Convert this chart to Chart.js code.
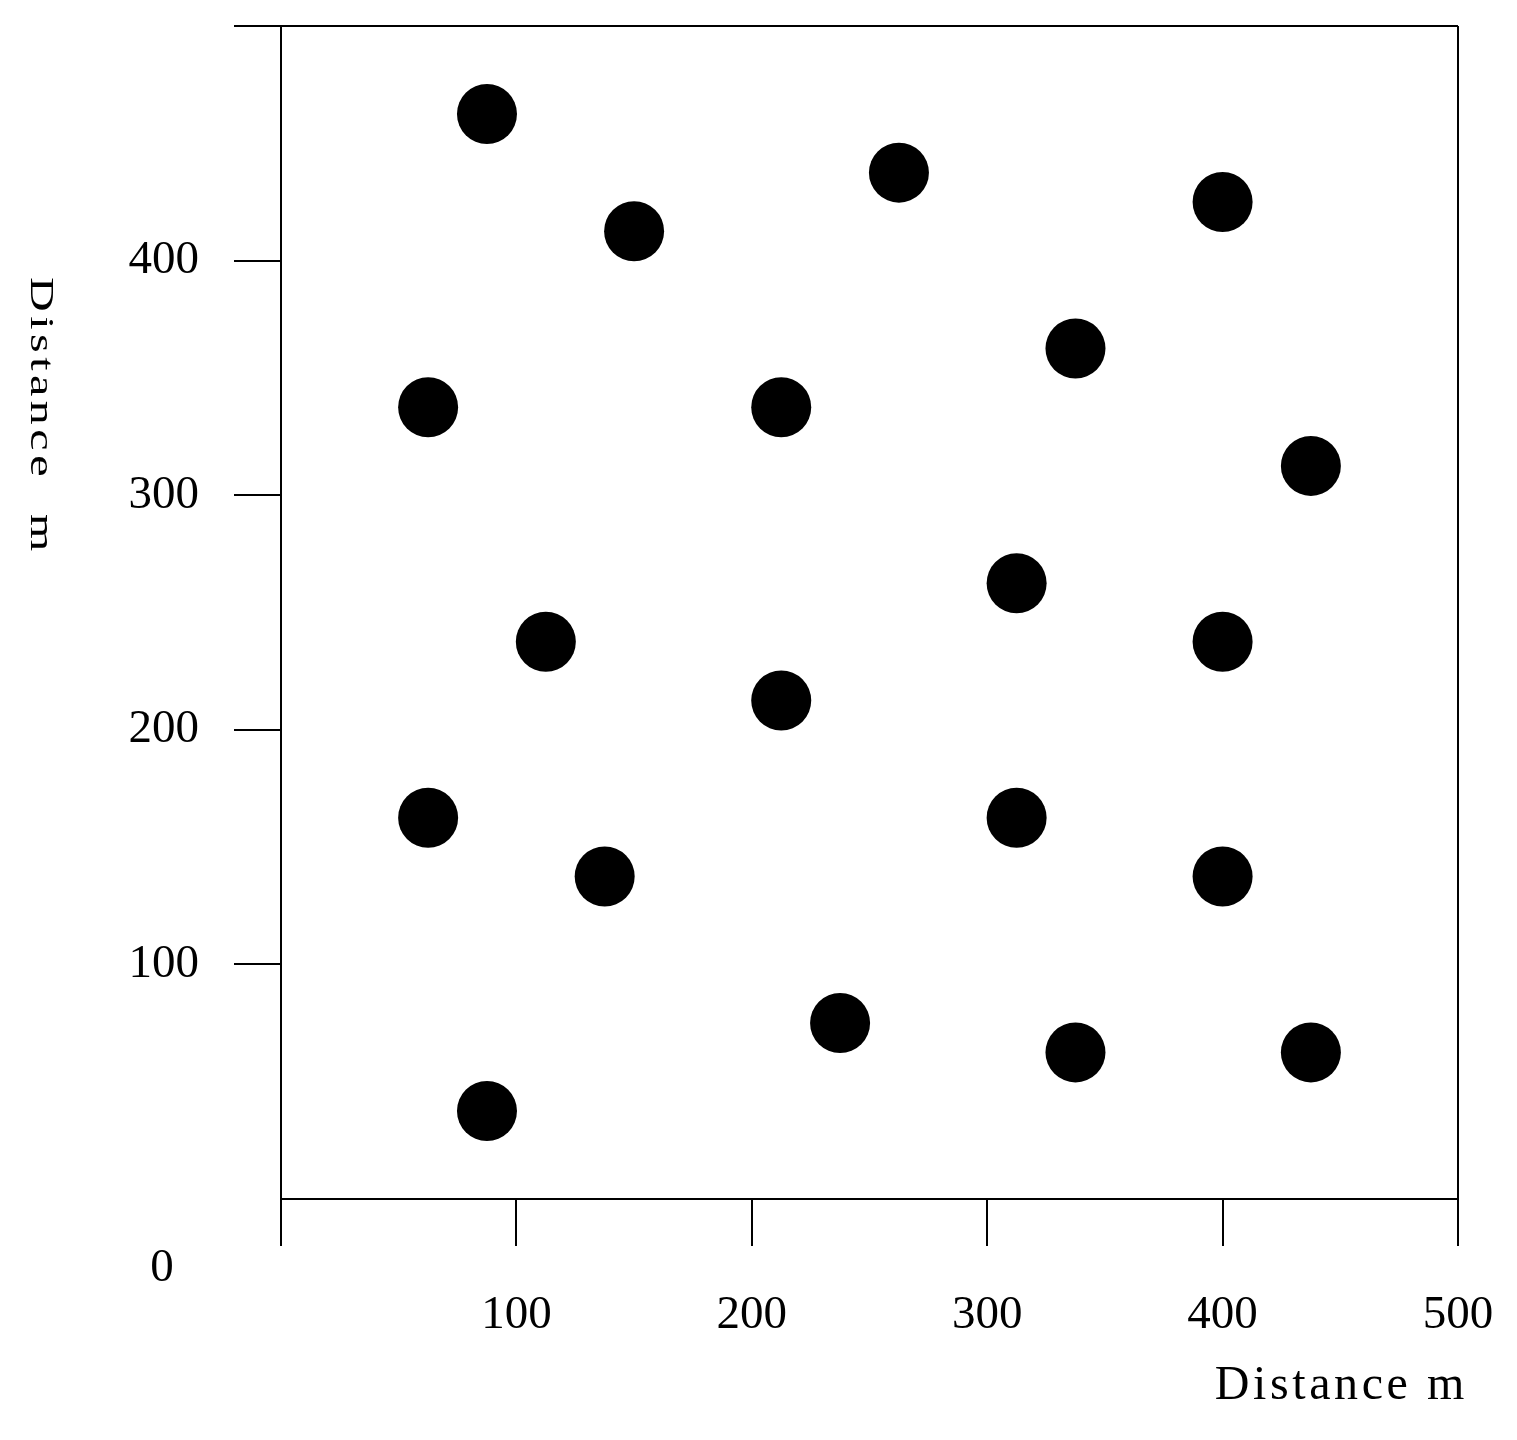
<!DOCTYPE html>
<html>
<head>
<meta charset="utf-8">
<script src="https://cdn.jsdelivr.net/npm/chart.js@4/dist/chart.umd.min.js"></script>
<style>
html,body{margin:0;padding:0;background:#fff;}
canvas{display:block;}
</style>
</head>
<body>
<canvas id="c" width="1517" height="1440"></canvas>
<script>
const xValues = [87.5, 150, 262.5, 400, 337.5, 62.5, 212.5, 437.5, 312.5, 112.5, 400, 212.5, 62.5, 312.5, 137.5, 400, 237.5, 337.5, 437.5, 87.5];
const yValues = [462.5, 412.5, 437.5, 425, 362.5, 337.5, 337.5, 312.5, 262.5, 237.5, 237.5, 212.5, 162.5, 162.5, 137.5, 137.5, 75, 62.5, 62.5, 37.5];
const xTickLabels = ['', '100', '200', '300', '400', '500'];
const yTickLabels = ['', '100', '200', '300', '400', ''];
const originLabel = '0';
const xTitle = 'Distance m';
const yTitle = 'Distance  m';

const FONT = '"Liberation Serif", "DejaVu Serif", serif';
const points = xValues.map((x, i) => ({x: x, y: yValues[i]}));

const framePlugin = {
  id: 'frame',
  afterDraw(chart) {
    const ctx = chart.ctx;
    const a = chart.chartArea;
    ctx.save();
    ctx.strokeStyle = '#000';
    ctx.lineWidth = 2;
    ctx.beginPath();
    ctx.moveTo(a.left, a.top);
    ctx.lineTo(a.right, a.top);
    ctx.moveTo(a.right, a.top);
    ctx.lineTo(a.right, a.bottom);
    ctx.stroke();
    // origin label
    ctx.fillStyle = '#000';
    ctx.font = '47px ' + FONT;
    ctx.textAlign = 'center';
    ctx.textBaseline = 'middle';
    ctx.fillText(originLabel, a.left - 119, a.bottom + 70);
    // x title
    ctx.font = '48px ' + FONT;
    ctx.letterSpacing = '3.6px';
    ctx.textAlign = 'right';
    ctx.textBaseline = 'middle';
    ctx.fillText(xTitle, a.right + 10, a.bottom + 187);
    // y title (rotated clockwise, compressed)
    ctx.save();
    ctx.translate(40, 277);
    ctx.rotate(Math.PI / 2);
    ctx.scale(1, 0.72);
    ctx.font = '48px ' + FONT;
    ctx.letterSpacing = '4.5px';
    ctx.textAlign = 'left';
    ctx.textBaseline = 'middle';
    ctx.fillText(yTitle, 0, 0);
    ctx.restore();
    ctx.restore();
  }
};

new Chart(document.getElementById('c'), {
  type: 'scatter',
  data: {
    datasets: [{
      data: points,
      pointRadius: 30,
      pointHoverRadius: 30,
      backgroundColor: '#000',
      borderWidth: 0,
      pointBorderWidth: 0
    }]
  },
  options: {
    responsive: false,
    devicePixelRatio: 1,
    animation: false,
    events: [],
    layout: {autoPadding: false, padding: {top: 26, right: 59, left: 0, bottom: 0}},
    plugins: {legend: {display: false}, tooltip: {enabled: false}},
    scales: {
      x: {
        type: 'linear',
        min: 0, max: 500,
        afterFit(s) { s.height = 241; s.paddingLeft = 0; s.paddingRight = 0; },
        afterBuildTicks(s) { s.ticks = xTickLabels.map((_, i) => ({value: i * 100})); },
        ticks: {
          stepSize: 100,
          autoSkip: false,
          maxRotation: 0,
          color: '#000',
          padding: 41,
          font: {family: FONT, size: 47},
          callback: (v, i) => xTickLabels[i]
        },
        grid: {
          drawOnChartArea: false,
          drawTicks: true,
          tickLength: 47,
          color: '#000',
          lineWidth: 2
        },
        border: {display: true, color: '#000', width: 2}
      },
      y: {
        type: 'linear',
        min: 0, max: 500,
        afterFit(s) { s.width = 281; s.paddingTop = 0; s.paddingBottom = 0; },
        afterBuildTicks(s) { s.ticks = yTickLabels.map((_, i) => ({value: i * 100})); },
        ticks: {
          stepSize: 100,
          autoSkip: false,
          color: '#000',
          padding: 35,
          font: {family: FONT, size: 47},
          callback: (v, i) => yTickLabels[i]
        },
        grid: {
          drawOnChartArea: false,
          drawTicks: true,
          tickLength: 47,
          color: (c) => (c.tick && c.tick.value === 0) ? 'rgba(0,0,0,0)' : '#000',
          lineWidth: 2
        },
        border: {display: true, color: '#000', width: 2}
      }
    }
  },
  plugins: [framePlugin]
});
</script>
</body>
</html>
